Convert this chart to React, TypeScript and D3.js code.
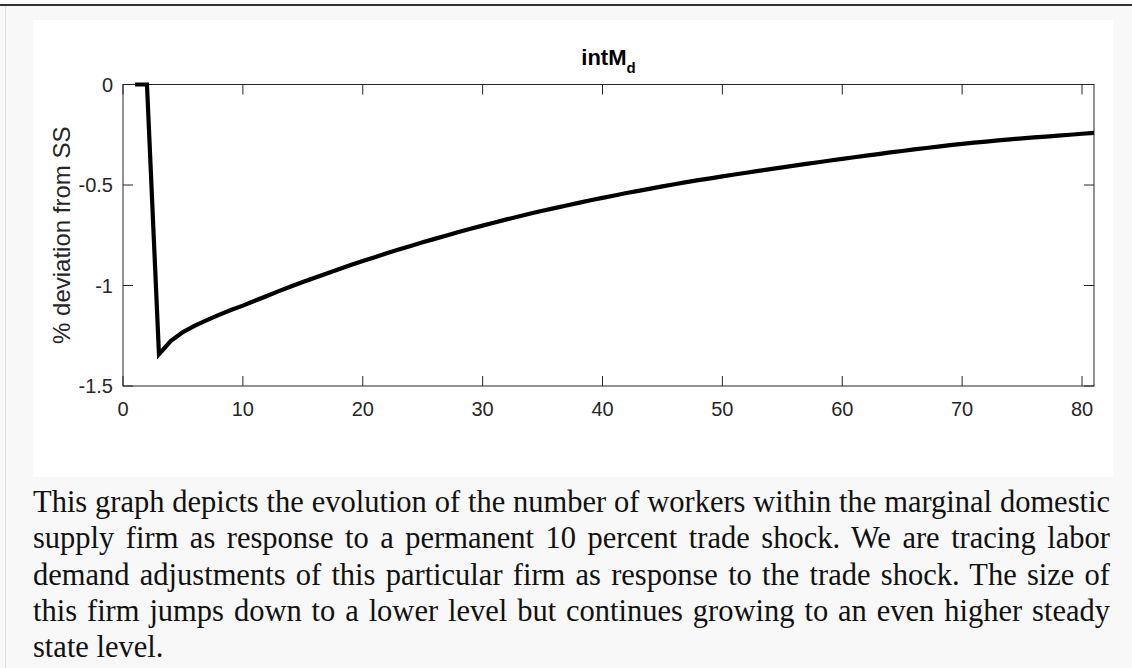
import React, { useLayoutEffect, useRef, useState } from "react";
import * as d3 from "d3";

const periods: number[] = [
  1, 2, 3, 4, 5, 6, 7, 8, 9, 10,
  11, 12, 13, 14, 15, 16, 17, 18, 19, 20,
  21, 22, 23, 24, 25, 26, 27, 28, 29, 30,
  31, 32, 33, 34, 35, 36, 37, 38, 39, 40,
  41, 42, 43, 44, 45, 46, 47, 48, 49, 50,
  51, 52, 53, 54, 55, 56, 57, 58, 59, 60,
  61, 62, 63, 64, 65, 66, 67, 68, 69, 70,
  71, 72, 73, 74, 75, 76, 77, 78, 79, 80, 81,
];

const intMd: number[] = [
  0, 0, -1.342, -1.275, -1.232, -1.2, -1.172, -1.146, -1.122, -1.1,
  -1.076, -1.052, -1.028, -1.005, -0.983, -0.961, -0.94, -0.919, -0.898, -0.878,
  -0.859, -0.84, -0.821, -0.803, -0.785, -0.768, -0.751, -0.734, -0.718, -0.702,
  -0.687, -0.671, -0.657, -0.642, -0.628, -0.615, -0.602, -0.589, -0.576, -0.564,
  -0.552, -0.54, -0.529, -0.518, -0.507, -0.496, -0.486, -0.476, -0.467, -0.457,
  -0.448, -0.439, -0.43, -0.421, -0.412, -0.404, -0.395, -0.387, -0.378, -0.37,
  -0.362, -0.354, -0.346, -0.338, -0.331, -0.323, -0.316, -0.309, -0.302, -0.295,
  -0.289, -0.284, -0.278, -0.273, -0.268, -0.263, -0.259, -0.254, -0.25, -0.245, -0.241,
];

const xTicks: number[] = [0, 10, 20, 30, 40, 50, 60, 70, 80];
const yTicks: number[] = [-1.5, -1, -0.5, 0];
const yTickLabels: string[] = ["-1.5", "-1", "-0.5", "0"];

const titleMain = "intM";
const titleSub = "d";
const yLabel = "% deviation from SS";

const captionLines: string[] = [
  "This graph depicts the evolution of the number of workers within the marginal domestic",
  "supply firm as response to a permanent 10 percent trade shock. We are tracing labor",
  "demand adjustments of this particular firm as response to the trade shock. The size of",
  "this firm jumps down to a lower level but continues growing to an even higher steady",
  "state level.",
];

const W = 1132;
const H = 668;
const AX = { left: 123, right: 1094, top: 84.5, bottom: 386 };
const axisColor = "#262626";
const sans = "'Liberation Sans', Arial, sans-serif";
const serif = "'Liberation Serif', 'Times New Roman', serif";

export default function App() {
  const x = d3.scaleLinear().domain([0, 81]).range([AX.left, AX.right]);
  const y = d3.scaleLinear().domain([-1.5, 0]).range([AX.bottom, AX.top]);
  const pts: [number, number][] = periods.map((p, i) => [p, intMd[i]]);
  const line = d3
    .line<[number, number]>()
    .x((d) => x(d[0]))
    .y((d) => y(d[1]));
  const tickLen = 10;
  const captionX = 33;
  const captionW = 1077;
  const captionY0 = 512;
  const captionDY = 36.3;
  const captionSize = 30.5;

  const refs = useRef<(SVGTextElement | null)[]>([]);
  const [spacing, setSpacing] = useState<number[]>(captionLines.map(() => 0));

  useLayoutEffect(() => {
    const sp = captionLines.map((ln, i) => {
      if (i === captionLines.length - 1) return 0;
      const el = refs.current[i];
      if (!el) return 0;
      const natural = el.getComputedTextLength();
      const spaces = ln.split(" ").length - 1;
      return spaces > 0 ? (captionW - natural) / spaces : 0;
    });
    setSpacing(sp);
  }, []);

  return (
    <div style={{ position: "absolute", left: 0, top: 0 }}>
      <svg width={W} height={H} style={{ display: "block" }}>
        <rect x={0} y={0} width={W} height={H} fill="#ffffff" />
        <rect x={0} y={6} width={W} height={H - 6} fill="#f8f8f8" />
        <line x1={0} x2={W} y1={5} y2={5} stroke="#333333" strokeWidth={2} />
        <line x1={5.5} x2={5.5} y1={6} y2={H} stroke="#dddddd" strokeWidth={1} />
        <rect x={33} y={20} width={1080} height={457} fill="#ffffff" />

        {/* title */}
        <text
          x={(AX.left + AX.right) / 2}
          y={65}
          textAnchor="middle"
          fontFamily={sans}
          fontWeight="bold"
          fontSize={22}
          fill="#000"
        >
          {titleMain}
          <tspan fontSize={15} dy={8}>
            {titleSub}
          </tspan>
        </text>

        {/* axes box */}
        <rect
          x={AX.left}
          y={AX.top}
          width={AX.right - AX.left}
          height={AX.bottom - AX.top}
          fill="none"
          stroke={axisColor}
          strokeWidth={1}
        />
        {xTicks.map((t) => (
          <g key={"xt" + t}>
            <line x1={x(t)} x2={x(t)} y1={AX.bottom} y2={AX.bottom - tickLen} stroke={axisColor} />
            <line x1={x(t)} x2={x(t)} y1={AX.top} y2={AX.top + tickLen} stroke={axisColor} />
            <text
              x={x(t)}
              y={416}
              textAnchor="middle"
              fontFamily={sans}
              fontSize={20}
              fill={axisColor}
            >
              {String(t)}
            </text>
          </g>
        ))}
        {yTicks.map((t, i) => (
          <g key={"yt" + t}>
            <line x1={AX.left} x2={AX.left + tickLen} y1={y(t)} y2={y(t)} stroke={axisColor} />
            <line x1={AX.right} x2={AX.right - tickLen} y1={y(t)} y2={y(t)} stroke={axisColor} />
            <text
              x={113}
              y={y(t) + 7}
              textAnchor="end"
              fontFamily={sans}
              fontSize={20}
              fill={axisColor}
            >
              {yTickLabels[i]}
            </text>
          </g>
        ))}
        <text
          transform={`translate(70, ${(AX.top + AX.bottom) / 2}) rotate(-90)`}
          textAnchor="middle"
          fontFamily={sans}
          fontSize={24}
          fill={axisColor}
        >
          {yLabel}
        </text>

        {/* series */}
        <path
          d={line(pts) || ""}
          fill="none"
          stroke="#000"
          strokeWidth={4.2}
          strokeLinejoin="miter"
          strokeLinecap="butt"
        />

        {/* caption */}
        {captionLines.map((ln, i) => (
          <text
            key={"c" + i}
            ref={(el) => {
              refs.current[i] = el;
            }}
            x={captionX}
            y={captionY0 + i * captionDY}
            fontFamily={serif}
            fontSize={captionSize}
            fill="#111"
            style={{ wordSpacing: `${spacing[i]}px`, whiteSpace: "pre" }}
          >
            {ln}
          </text>
        ))}
      </svg>
    </div>
  );
}
